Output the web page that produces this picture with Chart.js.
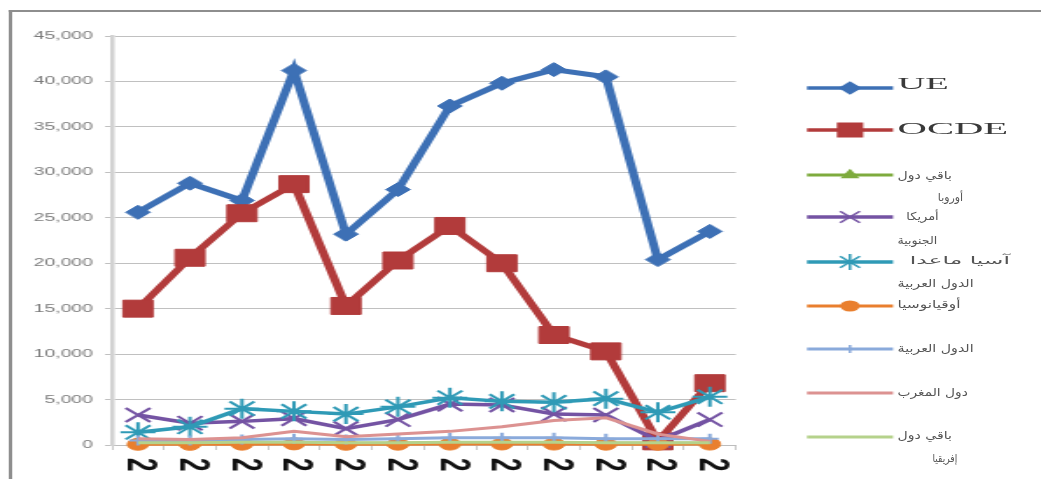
<!DOCTYPE html>
<html>
<head>
<meta charset="utf-8">
<script src="https://cdn.jsdelivr.net/npm/chart.js@4.4.0/dist/chart.umd.min.js"></script>
<style>
html, body { margin: 0; padding: 0; background: #fff; overflow: hidden; }
#wrap { position: absolute; left: 0; top: 0; width: 595px; height: 479px; transform-origin: 0 0; }
#wrap canvas { position: absolute; left: 0; top: 0; }
#frameL { position: absolute; left: 5px; top: 10px; width: 2px; height: 469px; background: #8e8e8e; }
#frameT { position: absolute; left: 5px; top: 10px; width: 590px; height: 2px; background: #8e8e8e; }
.lg { position: absolute; white-space: nowrap; color: #555; transform-origin: 0 50%; }
</style>
</head>
<body>
<div id="wrap">
  <canvas id="chart" width="595" height="479"></canvas>
  <canvas id="legend" width="595" height="479"></canvas>
  <div id="frameL"></div>
  <div id="frameT"></div>
</div>
<script>
// data
const categories = ['2', '2', '2', '2', '2', '2', '2', '2', '2', '2', '2', '2'];
const seriesNames = ['UE', 'OCDE', 'باقي دول أوروبا', 'أمريكا الجنوبية', 'آسيا ماعدا الدول العربية',
  'أوقيانوسيا', 'الدول العربية', 'دول المغرب', 'باقي دول إفريقيا'];
const ue       = [25600, 28800, 26900, 41200, 23200, 28100, 37300, 39800, 41300, 40500, 20400, 23500];
const ocde     = [15000, 20600, 25500, 28700, 15300, 20300, 24100, 20000, 12100, 10300, 400, 6800];
const europe   = [200, 200, 200, 300, 200, 200, 200, 200, 200, 200, 200, 200];
const america  = [3300, 2400, 2600, 2900, 1800, 2800, 4500, 4400, 3400, 3300, 500, 2800];
const asia     = [1400, 2000, 4000, 3700, 3400, 4200, 5200, 4800, 4700, 5100, 3600, 5300];
const oceania  = [80, 70, 90, 120, 80, 90, 100, 110, 100, 90, 80, 100];
const arab     = [500, 500, 600, 700, 600, 700, 800, 800, 800, 700, 700, 700];
const maghreb  = [700, 600, 800, 1500, 900, 1200, 1500, 2000, 2700, 3000, 1200, 400];
const africa   = [250, 250, 300, 300, 250, 250, 300, 300, 300, 250, 250, 250];
const yTicks   = [0, 5000, 10000, 15000, 20000, 25000, 30000, 35000, 40000, 45000];

// the reference is a horizontally stretched picture
const W = 595, S = 1041 / W;
document.getElementById('wrap').style.transform = 'scaleX(' + S + ')';

const colors = ['#3d70b5', '#b23b3b', '#7eab3e', '#7453a3', '#2f9ab6', '#e97f2e', '#8aaadb', '#dc9291', '#b5d28b'];
const styles = [
  { pointStyle: 'rectRot', radius: 7, lw: 5 },
  { pointStyle: 'rect', radius: 12, lw: 5 },
  { pointStyle: 'triangle', radius: 6, lw: 3 },
  { pointStyle: 'crossRot', radius: 10, lw: 3.5 },
  { pointStyle: 'star', radius: 10, lw: 3.5 },
  { pointStyle: 'circle', radius: 6, lw: 3 },
  { pointStyle: 'cross', radius: 5, lw: 3 },
  { pointStyle: false, radius: 0, lw: 3 },
  { pointStyle: false, radius: 0, lw: 3 }
];
const values = [ue, ocde, europe, america, asia, oceania, arab, maghreb, africa];

const datasets = values.map((v, i) => ({
  label: seriesNames[i],
  data: v,
  borderColor: colors[i],
  backgroundColor: colors[i],
  borderWidth: styles[i].lw,
  pointStyle: styles[i].pointStyle,
  pointRadius: styles[i].radius,
  pointBorderWidth: (i == 3 || i == 4 || i == 6) ? 2 : 1,
  pointBackgroundColor: colors[i],
  pointBorderColor: colors[i],
  tension: 0,
  clip: false,
  order: 10 - i
}));

// category labels turned a quarter clockwise (Chart.js only turns the other way)
const cwLabels = {
  id: 'cwLabels',
  afterDraw(c) {
    const x = c.scales.x, ctx = c.ctx;
    ctx.save();
    ctx.fillStyle = '#111';
    ctx.font = 'bold 24px "Liberation Sans"';
    ctx.textAlign = 'left';
    ctx.textBaseline = 'middle';
    c.data.labels.forEach((lab, i) => {
      ctx.save();
      ctx.translate(x.getPixelForValue(i) + 1, x.top + 13);
      ctx.rotate(Math.PI / 2);
      ctx.fillText(lab, 0, 0);
      ctx.restore();
    });
    ctx.restore();
  }
};

const chart = new Chart(document.getElementById('chart'), {
  type: 'line',
  data: { labels: categories, datasets: datasets },
  options: {
    responsive: false,
    animation: false,
    layout: { padding: { top: 36, right: W - 420.6, left: 0, bottom: 0 } },
    plugins: { legend: { display: false }, tooltip: { enabled: false } },
    scales: {
      x: {
        offset: true,
        afterFit: s => { s.height = 34; },
        grid: { offset: true, drawOnChartArea: false, tickLength: 5, color: '#c8c8c8' },
        border: { display: true, color: '#bdbdbd', width: 1 },
        ticks: { autoSkip: false, maxRotation: 0, color: 'rgba(0,0,0,0)' }
      },
      y: {
        min: 0, max: 45000,
        afterFit: s => { s.width = 64; },
        afterBuildTicks: s => { s.ticks = yTicks.map(v => ({ value: v })); },
        grid: { color: '#c0c0c0', tickLength: 4 },
        border: { color: '#d2d2d2', width: 2.5 },
        ticks: {
          padding: 7, color: '#7a7a7a',
          font: { family: 'Liberation Sans', size: 11 },
          callback: v => v.toLocaleString('en-US')
        }
      }
    }
  },
  plugins: [cwLabels]
});

// legend, drawn by hand (positions in reference pixels)
const legendLineY = [88, 130, 175, 217, 262, 306, 349, 393, 437];
const legendText = [
  [['UE', 898, 83, 52]],
  [['OCDE', 898, 128, 110]],
  [['باقي دول', 898, 175, 55], ['أوروبا', 937, 197, 25]],
  [['أمريكا', 907, 216, 33], ['الجنوبية', 897, 240, 40]],
  [['آسيا ماعدا', 910, 260, 100], ['الدول العربية', 897, 283, 76]],
  [['أوقيانوسيا', 897, 304, 63]],
  [['الدول العربية', 897, 348, 76]],
  [['دول المغرب', 897, 392, 70]],
  [['باقي دول', 898, 435, 55], ['إفريقيا', 932, 458, 25]]
];

const lctx = document.getElementById('legend').getContext('2d');
const wrap = document.getElementById('wrap');
legendLineY.forEach((y, i) => {
  lctx.strokeStyle = colors[i];
  lctx.lineWidth = Math.min(styles[i].lw, 3.5);
  lctx.beginPath();
  lctx.moveTo(807 / S, y);
  lctx.lineTo(893 / S, y);
  lctx.stroke();
  if (styles[i].pointStyle) {
    lctx.fillStyle = colors[i];
    lctx.lineWidth = 1.5;
    Chart.helpers.drawPoint(lctx, {
      pointStyle: styles[i].pointStyle, rotation: 0,
      radius: styles[i].radius * 0.8, borderWidth: 1.5
    }, 850 / S, y);
  }
  legendText[i].forEach(t => {
    const sp = document.createElement('span');
    sp.className = 'lg';
    sp.textContent = t[0];
    const latin = i < 2;
    const fs = latin ? 17 : 11;
    sp.style.font = (latin ? '17px "Liberation Serif"' : '11px "DejaVu Sans"');
    if (latin) sp.style.color = '#3a3a3a';
    sp.style.lineHeight = fs + 'px';
    sp.style.left = (t[1] / S) + 'px';
    sp.style.top = (t[2] - fs / 2) + 'px';
    wrap.appendChild(sp);
    const k = (t[3] / S) / sp.offsetWidth;
    sp.style.transform = 'scaleX(' + k + ')';
  });
});
</script>
</body>
</html>
